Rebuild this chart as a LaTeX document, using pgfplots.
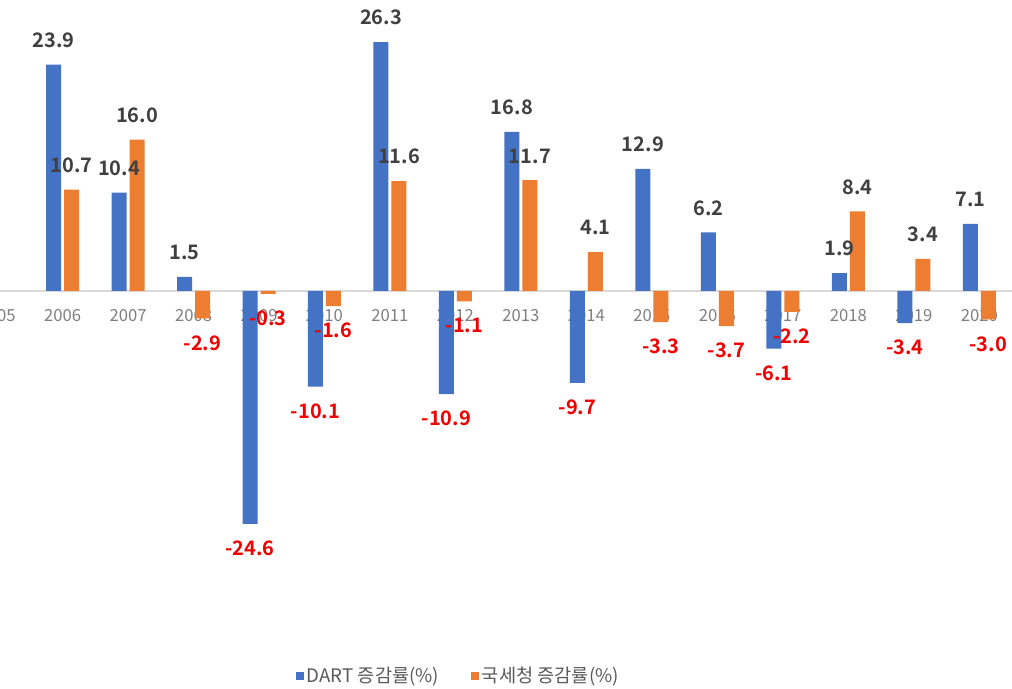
\documentclass[border=0pt]{standalone}
\usepackage{pgfplots}
\pgfplotsset{compat=1.18}
\usepackage{pgfplotstable}
\usepackage{fontspec}
\setmainfont{Noto Sans CJK KR}[BoldFont={Noto Sans CJK KR Bold}]
\definecolor{dblue}{HTML}{4472C4}
\definecolor{dorange}{HTML}{ED7D31}
\definecolor{lblgray}{HTML}{404040}
\definecolor{negred}{HTML}{F00000}
\definecolor{tickgray}{HTML}{7F7F7F}
\definecolor{leggray}{HTML}{595959}
\definecolor{zerogray}{HTML}{D9D9D9}

\pgfplotstableread{
idx dart nts
1 23.9 10.7
2 10.4 16.0
3 1.5 -2.9
4 -24.6 -0.3
5 -10.1 -1.6
6 26.3 11.6
7 -10.9 -1.1
8 16.8 11.7
9 -9.7 4.1
10 12.9 -3.3
11 6.2 -3.7
12 -6.1 -2.2
13 1.9 8.4
14 -3.4 3.4
15 7.1 -3.0
}\data

\begin{document}
\begin{tikzpicture}
\begin{axis}[
  set layers,
  at={(0,0)}, anchor=south west,
  scale only axis,
  width=771pt, height=426pt,
  xmin=-0.2, xmax=15.5,
  ymin=-30, ymax=30,
  clip=false,
  axis y line=none,
  axis x line*=middle,
  x axis line style={draw=zerogray, line width=0.8pt},
  xtick={0,...,15},
  xticklabels={2005,2006,2007,2008,2009,2010,2011,2012,2013,2014,2015,2016,2017,2018,2019,2020},
  major tick length=0pt,
  xticklabel style={font=\fontsize{12.5}{14}\selectfont, text=tickgray, yshift=-10.5pt},
  ybar,
  bar width=11.25pt,
  nodes near coords={\pgfmathfloatifflags{\pgfplotspointmeta}{2}{\color{negred}}{\color{lblgray}}\pgfmathprintnumber[fixed,fixed zerofill,precision=1,assume math mode=true]{\pgfplotspointmeta}},
  every node near coord/.append style={font=\bfseries\fontsize{15}{17}\selectfont, inner ysep=12.5pt, inner xsep=0pt},
  legend style={at={(rel axis cs:0.462,-0.178)}, anchor=center, draw=none, fill=none,
    font=\fontsize{14}{16}\selectfont, text=leggray,
    /tikz/every even column/.append style={column sep=22pt},
    nodes={inner xsep=2pt}},
  legend columns=2,
  legend image code/.code={\fill[#1, draw=none] (0pt,-3pt) rectangle (6pt,3pt);},
]
\addplot[fill=dblue, draw=none, bar shift=-6.75pt] table[x=idx, y=dart] {\data};
\addlegendentry{DART 증감률(\%)}
\addplot[fill=dorange, draw=none, bar shift=6.75pt] table[x=idx, y=nts] {\data};
\addlegendentry{국세청 증감률(\%)}
\end{axis}
\pgfresetboundingbox
\path[use as bounding box] (12pt,-84.75pt) rectangle (771pt,431.25pt);
\end{tikzpicture}
\end{document}
